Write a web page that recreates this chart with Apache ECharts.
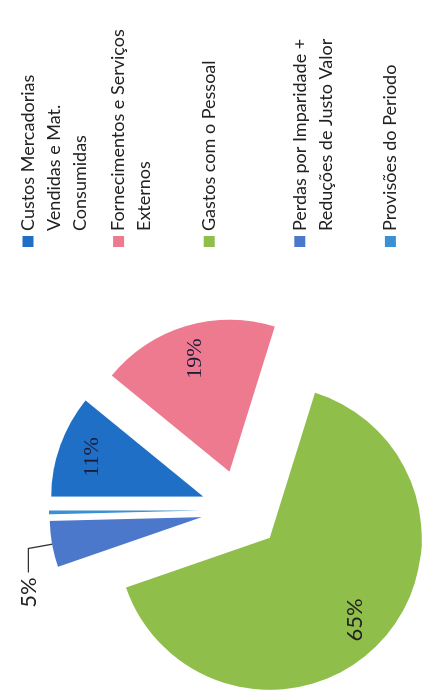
<!DOCTYPE html>
<html>
<head>
<meta charset="utf-8">
<script src="https://cdn.jsdelivr.net/npm/echarts@6/dist/echarts.min.js"></script>
<style>
    html, body {
        margin: 0;
        padding: 0;
        width: 430px;
        height: 697px;
        overflow: hidden;
        background: #fff;
    }
    /* the scanned chart lies on its side: draw it upright, then turn it a quarter left */
    .expense-pie {
        position: absolute;
        left: 0;
        top: 0;
        width: 697px;
        height: 430px;
        transform-origin: 0 0;
        transform: translateY(697px) rotate(-90deg);
    }
</style>
</head>
<body>
<div class="expense-pie" id="expense-pie"></div>
<script>
const CATEGORIES = [
    'Custos Mercadorias\nVendidas e Mat.\nConsumidas',
    'Fornecimentos e Serviços\nExternos',
    'Gastos com o Pessoal',
    'Perdas por Imparidade +\nReduções de Justo Valor',
    'Provisões do Periodo'
];
const SHARES = [10.9, 18.9, 64.9, 4.9, 0.4];

const COLORS = ['#1f6fc6', '#ee7a90', '#8fbf4a', '#4c78cc', '#3a90d4'];
const LABEL_FONTS = ['Liberation Serif', 'Liberation Serif', 'Lato', 'Lato', 'Lato'];
const LINE_H = 26;

const chart = echarts.init(document.getElementById('expense-pie'));

function labelFor(i, ring) {
    const pct = Math.round(SHARES[i]);
    const base = {
        formatter: '{d}%',
        fontFamily: LABEL_FONTS[i],
        fontSize: 22,
        color: LABEL_FONTS[i] === 'Lato' ? '#222' : '#1c1c3a'
    };
    if (pct === 0) {
        return { show: false };
    }
    if (pct < 8) {
        // small slice: label outside with a leader line (drawn by the solid pie)
        return ring ? { show: false } : Object.assign(base, { show: true, position: 'outside' });
    }
    return ring ? Object.assign(base, { show: true, position: 'inside' }) : { show: false };
}

const pieData = CATEGORIES.map((name, i) => ({
    name: name,
    value: SHARES[i],
    selected: true,
    itemStyle: { color: COLORS[i] },
    label: labelFor(i, false)
}));
const ringData = CATEGORIES.map((name, i) => ({
    name: name,
    value: SHARES[i],
    selected: true,
    label: labelFor(i, true)
}));

// one legend per entry so they sit evenly spaced like in Excel;
// blank lines on top keep the marker level with the first text line
const legends = CATEGORIES.map((name, i) => {
    const lines = name.split('\n').length;
    const centerY = 28 + 90.6 * i;
    return {
        data: [name],
        orient: 'vertical',
        left: 450,
        top: centerY - (2 * lines - 1) * LINE_H / 2,
        padding: 0,
        itemWidth: 11,
        itemHeight: 11,
        itemGap: 0,
        icon: 'rect',
        selectedMode: false,
        formatter: function (n) {
            return '\n'.repeat(lines - 1) + n;
        },
        textStyle: {
            fontFamily: 'Lato',
            fontSize: 18,
            color: '#222',
            lineHeight: LINE_H
        }
    };
});

const options = {
    backgroundColor: '#fff',
    animation: false,
    legend: legends,
    series: [
        {
            type: 'pie',
            center: [187, 241],
            radius: 152,
            startAngle: 90,
            clockwise: true,
            percentPrecision: 0,
            avoidLabelOverlap: false,
            selectedMode: 'multiple',
            selectedOffset: 40,
            emphasis: { disabled: true },
            labelLine: {
                show: true,
                length: 24,
                length2: 24,
                lineStyle: { color: '#333', width: 1.3 }
            },
            data: pieData
        },
        {
            // transparent ring, only there to seat the inside labels further out
            type: 'pie',
            center: [187, 241],
            radius: [78, 152],
            startAngle: 90,
            clockwise: true,
            percentPrecision: 0,
            silent: true,
            avoidLabelOverlap: false,
            selectedMode: 'multiple',
            selectedOffset: 40,
            itemStyle: { color: 'rgba(0,0,0,0)' },
            labelLine: { show: false },
            emphasis: { disabled: true },
            data: ringData
        }
    ]
};
chart.setOption(options);
</script>
</body>
</html>
